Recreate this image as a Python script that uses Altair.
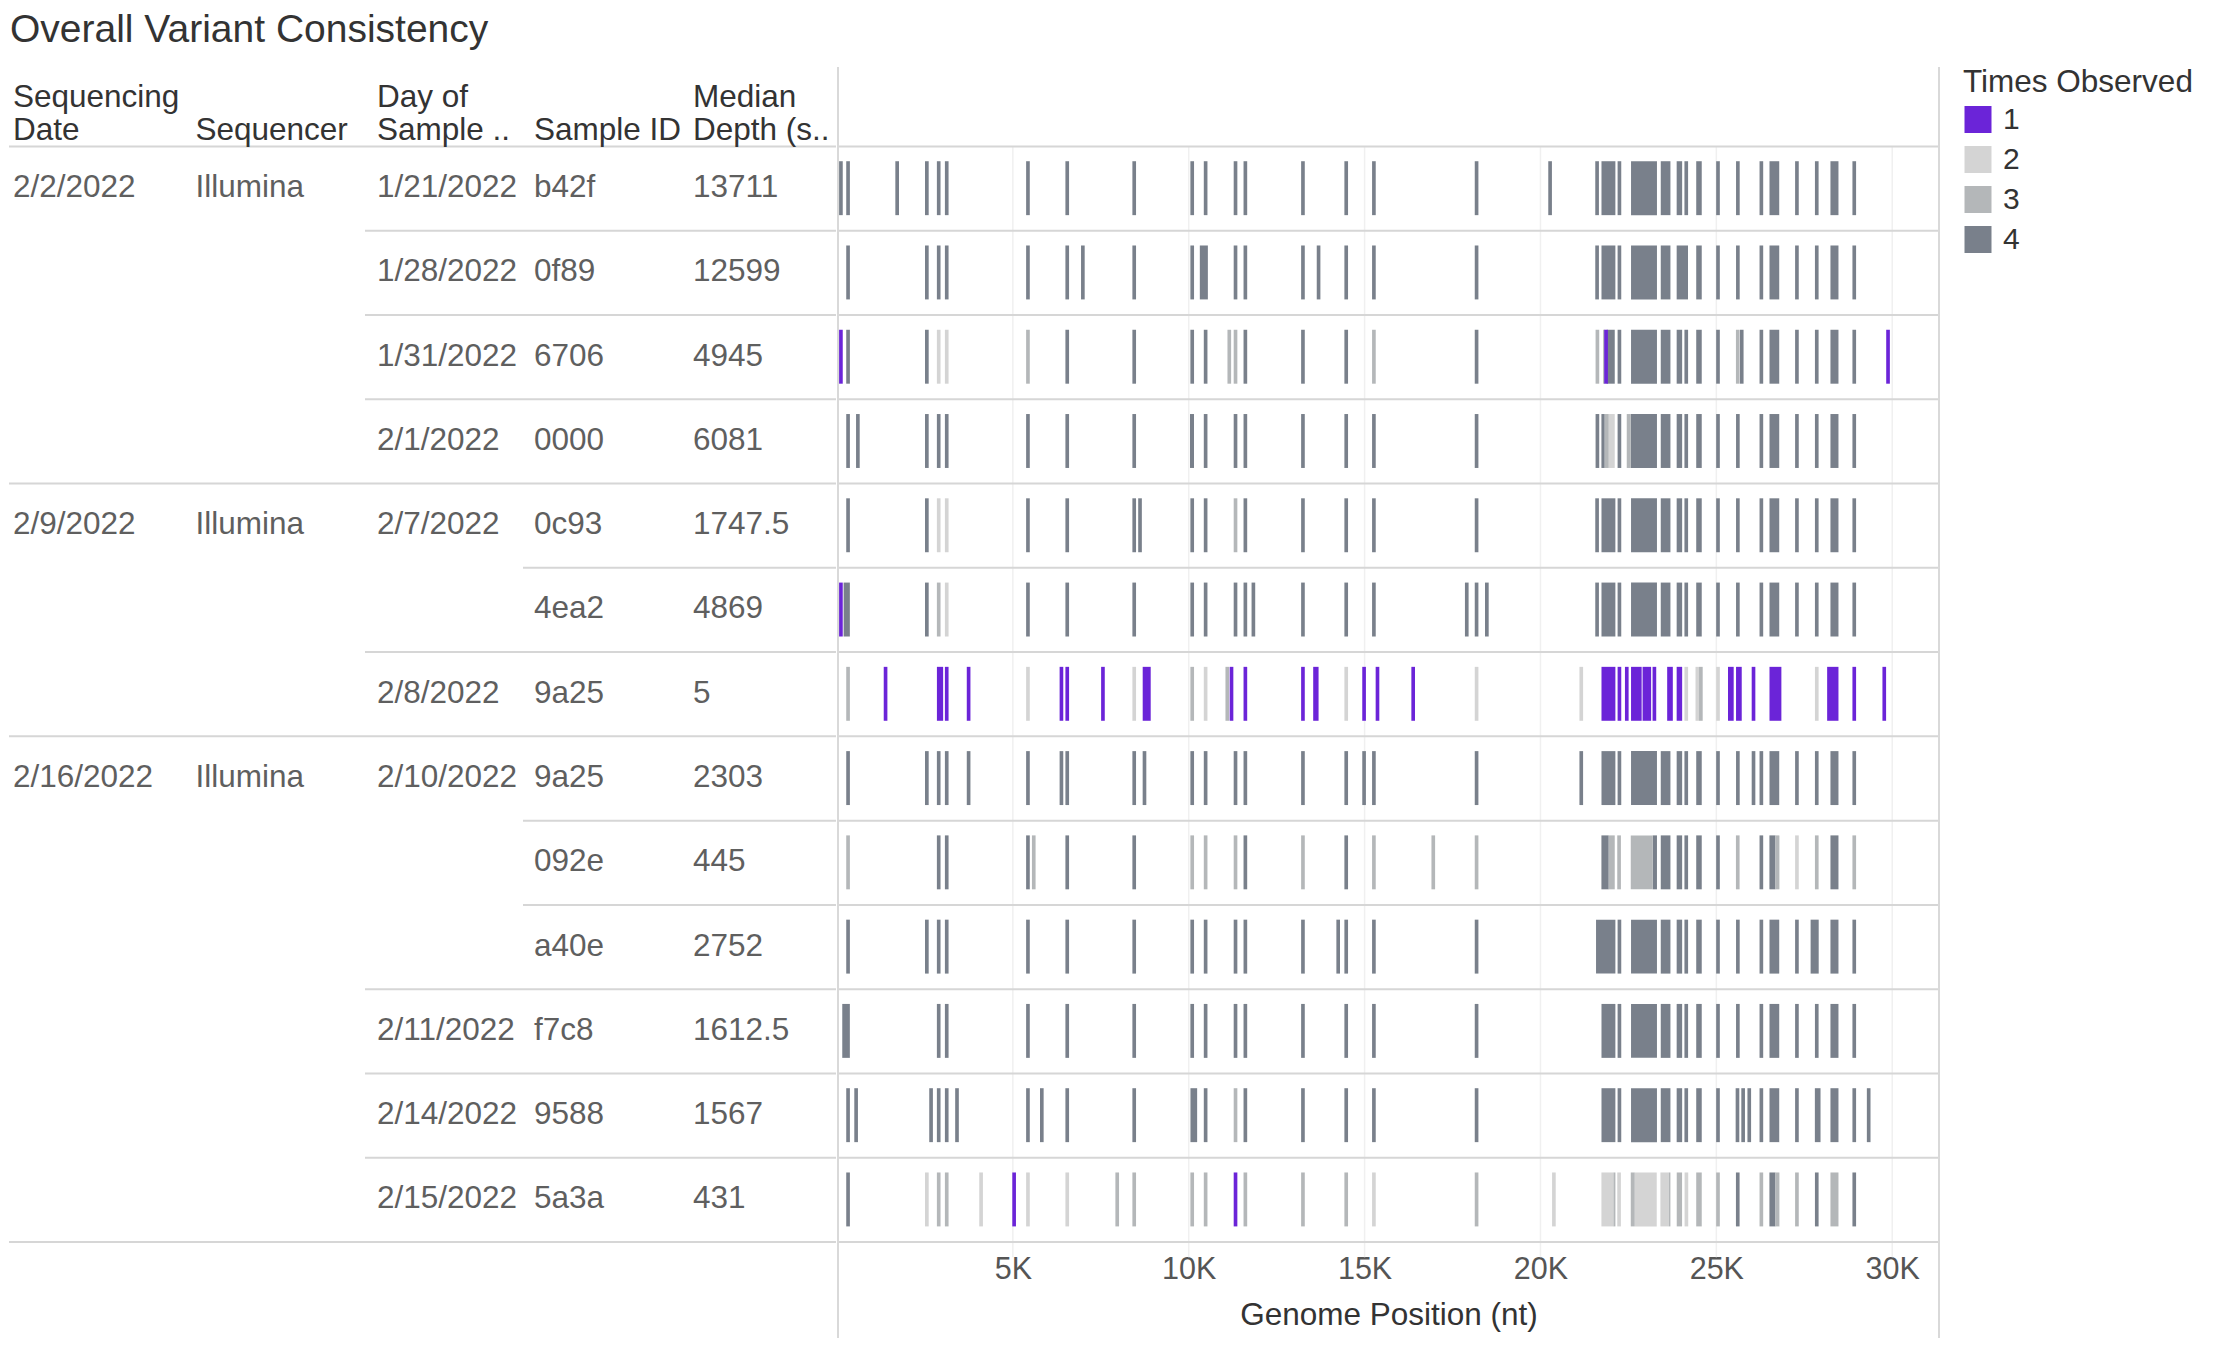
import altair as alt
import pandas as pd

FONT = "Liberation Sans"

# ---------------- data ----------------
title_text = "Overall Variant Consistency"
header_labels = ["Sequencing\nDate", "Sequencer", "Day of\nSample ..", "Sample ID", "Median\nDepth (s.."]
seq_dates = ["2/2/2022"] * 4 + ["2/9/2022"] * 3 + ["2/16/2022"] * 6
sequencers = ["Illumina"] * 13
sample_days = ["1/21/2022", "1/28/2022", "1/31/2022", "2/1/2022", "2/7/2022", "2/7/2022", "2/8/2022",
               "2/10/2022", "2/10/2022", "2/10/2022", "2/11/2022", "2/14/2022", "2/15/2022"]
sample_ids = ["b42f", "0f89", "6706", "0000", "0c93", "4ea2", "9a25", "9a25", "092e", "a40e", "f7c8", "9588", "5a3a"]
depths = ["13711", "12599", "4945", "6081", "1747.5", "4869", "5", "2303", "445", "2752", "1612.5", "1567", "431"]

tick_values = [5000, 10000, 15000, 20000, 25000, 30000]
times_observed = [1, 2, 3, 4]

# variants per sample: (position, times observed) or (start, end, times observed)
v_b42f = [(113, 4), (316, 4), (1712, 4), (2556, 4), (2893, 4), (3121, 4), (5430, 4), (6547, 4), (8451, 4),
          (10100, 4), (10481, 4), (11331, 4), (11611, 4), (13248, 4), (14478, 4), (15265, 4), (18184, 4),
          (20274, 4), (21610, 4), (21735, 22130, 4), (22245, 4), (22575, 23312, 4), (23420, 23695, 4),
          (23872, 24028, 4), (24145, 4), (24428, 24585, 4), (25047, 4), (25612, 4), (26280, 4),
          (26511, 26788, 4), (27291, 4), (27855, 4), (28244, 28472, 4), (28921, 4)]
v_0f89 = [(316, 4), (2556, 4), (2893, 4), (3121, 4), (5430, 4), (6547, 4), (6991, 4), (8451, 4), (10100, 4),
          (10316, 10545, 4), (11331, 4), (11611, 4), (13248, 4), (13692, 4), (14478, 4), (15265, 4), (18184, 4),
          (21610, 4), (21735, 22130, 4), (22245, 4), (22575, 23312, 4), (23420, 23695, 4), (23872, 24195, 4),
          (24428, 24585, 4), (25047, 4), (25612, 4), (26280, 4), (26511, 26788, 4), (27291, 4), (27855, 4),
          (28244, 28472, 4), (28921, 4)]
v_6706 = [(113, 1), (316, 4), (2556, 4), (2893, 2), (3121, 2), (5430, 3), (6547, 4), (8451, 4), (10100, 4),
          (10481, 4), (11154, 3), (11331, 3), (11611, 4), (13248, 4), (14478, 4), (15265, 3), (18184, 4),
          (21619, 3), (21780, 21840, 3), (21880, 22112, 4), (21865, 1), (22245, 4), (22575, 23312, 4),
          (23420, 23695, 4), (23872, 24028, 4), (24145, 4), (24428, 24585, 4), (25047, 4), (25609, 3),
          (25722, 4), (26280, 4), (26511, 26788, 4), (27291, 4), (27855, 4), (28244, 28472, 4), (28921, 4),
          (29881, 1)]
v_0000 = [(316, 4), (595, 4), (2556, 4), (2893, 4), (3121, 4), (5430, 4), (6547, 4), (8451, 4),
          (10037, 10151, 4), (10481, 4), (11331, 4), (11611, 4), (13248, 4), (14478, 4), (15265, 4), (18184, 4),
          (21619, 4), (21733, 21827, 4), (21827, 21941, 3), (21941, 22112, 2), (22245, 4), (22453, 22567, 3),
          (22567, 23312, 4), (23420, 23695, 4), (23872, 24028, 4), (24145, 4), (24428, 24585, 4), (25047, 4),
          (25612, 4), (26280, 4), (26511, 26788, 4), (27291, 4), (27855, 4), (28244, 28472, 4), (28921, 4)]
v_0c93 = [(316, 4), (2556, 4), (2893, 2), (3121, 2), (5430, 4), (6547, 4), (8451, 4), (8616, 4), (10100, 4),
          (10481, 4), (11331, 3), (11611, 4), (13248, 4), (14478, 4), (15265, 4), (18184, 4), (21610, 4),
          (21735, 22130, 4), (22245, 4), (22575, 23312, 4), (23420, 23695, 4), (23872, 24028, 4), (24145, 4),
          (24428, 24585, 4), (25047, 4), (25612, 4), (26280, 4), (26511, 26788, 4), (27291, 4), (27855, 4),
          (28244, 28472, 4), (28921, 4)]
v_4ea2 = [(113, 1), (190, 367, 4), (2556, 4), (2893, 3), (3121, 2), (5430, 4), (6547, 4), (8451, 4), (10100, 4),
          (10481, 4), (11331, 4), (11611, 4), (11839, 4), (13248, 4), (14478, 4), (15265, 4), (17905, 4),
          (18184, 4), (18476, 4), (21610, 4), (21735, 22130, 4), (22245, 4), (22575, 23312, 4),
          (23420, 23695, 4), (23872, 24028, 4), (24145, 4), (24428, 24585, 4), (25047, 4), (25612, 4),
          (26280, 4), (26511, 26788, 4), (27291, 4), (27855, 4), (28244, 28472, 4), (28921, 4)]
v_9a25_a = [(316, 3), (1382, 1), (2842, 3019, 1), (3121, 1), (3743, 1), (5430, 2), (6382, 1), (6547, 1),
            (7562, 1), (8451, 2), (8692, 8920, 1), (10100, 3), (10481, 2), (11097, 3), (11217, 1), (11611, 1),
            (13248, 1), (13539, 13692, 1), (14478, 2), (14986, 1), (15367, 1), (16382, 1), (18184, 2),
            (21160, 2), (21735, 22130, 1), (22245, 1), (22454, 1), (22575, 22877, 1), (22903, 23146, 1),
            (23239, 1), (23602, 23763, 1), (23872, 24028, 1), (24145, 2), (24460, 2), (24560, 3), (25047, 2),
            (25332, 25493, 1), (25560, 25722, 1), (26057, 1), (26511, 26849, 1), (27855, 2),
            (28150, 28472, 1), (28921, 1), (29774, 1)]
v_9a25_b = [(316, 4), (2556, 4), (2893, 4), (3121, 4), (3743, 4), (5430, 4), (6382, 4), (6547, 4), (8451, 4),
            (8743, 4), (10100, 4), (10481, 4), (11331, 4), (11611, 4), (13248, 4), (14478, 4), (14986, 4),
            (15265, 4), (18184, 4), (21160, 4), (21735, 22130, 4), (22245, 4), (22575, 23312, 4),
            (23420, 23695, 4), (23872, 24028, 4), (24145, 4), (24428, 24585, 4), (25047, 4), (25612, 4),
            (26057, 4), (26280, 4), (26511, 26788, 4), (27291, 4), (27855, 4), (28244, 28472, 4), (28921, 4)]
v_092e = [(316, 3), (2893, 4), (3121, 4), (5430, 4), (5595, 3), (6547, 4), (8451, 4), (10100, 3), (10481, 3),
          (11331, 3), (11611, 4), (13248, 3), (14478, 4), (15265, 3), (16953, 3), (18184, 3),
          (21733, 21941, 4), (21941, 22112, 3), (22235, 3), (22567, 23192, 3), (23192, 23312, 4),
          (23420, 23695, 4), (23872, 24028, 4), (24145, 4), (24428, 24585, 4), (25047, 4), (25609, 3),
          (26280, 4), (26509, 26680, 4), (26680, 26793, 3), (27291, 2), (27855, 3), (28244, 28472, 4),
          (28921, 3)]
v_a40e = [(316, 4), (2556, 4), (2893, 4), (3121, 4), (5430, 4), (6547, 4), (8451, 4), (10100, 4), (10481, 4),
          (11331, 4), (11611, 4), (13248, 4), (14250, 4), (14478, 4), (15265, 4), (18184, 4),
          (21580, 22130, 4), (22245, 4), (22575, 23312, 4), (23420, 23695, 4), (23872, 24028, 4), (24145, 4),
          (24428, 24585, 4), (25047, 4), (25612, 4), (26280, 4), (26511, 26788, 4), (27291, 4),
          (27680, 27910, 4), (28244, 28472, 4), (28921, 4)]
v_f7c8 = [(151, 367, 4), (2893, 4), (3121, 4), (5430, 4), (6547, 4), (8451, 4), (10100, 4), (10481, 4),
          (11331, 4), (11611, 4), (13248, 4), (14478, 4), (15265, 4), (18184, 4), (21735, 22130, 4), (22245, 4),
          (22575, 23312, 4), (23420, 23695, 4), (23872, 24028, 4), (24145, 4), (24428, 24585, 4), (25047, 4),
          (25612, 4), (26280, 4), (26511, 26788, 4), (27291, 4), (27855, 4), (28244, 28472, 4), (28921, 4)]
v_9588 = [(316, 4), (545, 4), (2676, 4), (2893, 4), (3121, 4), (3413, 4), (5430, 4), (5824, 4), (6547, 4),
          (8451, 4), (10050, 10240, 4), (10481, 4), (11331, 3), (11611, 4), (13248, 4), (14478, 4), (15265, 4),
          (18184, 4), (21735, 22130, 4), (22245, 4), (22575, 23312, 4), (23420, 23695, 4), (23872, 24028, 4),
          (24145, 4), (24428, 24585, 4), (25047, 4), (25601, 4), (25762, 4), (25936, 4), (26280, 4),
          (26511, 26788, 4), (27291, 4), (27801, 27962, 4), (28244, 28472, 4), (28921, 4), (29331, 4)]
v_5a3a = [(316, 4), (2556, 2), (2893, 3), (3121, 3), (4098, 2), (5037, 1), (5430, 2), (6547, 2), (7968, 3),
          (8451, 3), (10100, 3), (10481, 3), (11331, 1), (11611, 3), (13248, 3), (14478, 3), (15265, 2),
          (18184, 3), (20382, 2), (21733, 22074, 2), (22074, 22131, 3), (22235, 2), (22567, 22680, 3),
          (22680, 23306, 2), (23410, 23647, 2), (23647, 23694, 3), (23874, 24026, 3), (24149, 2),
          (24428, 24585, 3), (25047, 3), (25609, 4), (26280, 3), (26509, 26680, 4), (26680, 26793, 3),
          (27291, 3), (27855, 4), (28244, 28472, 3), (28921, 4)]

variants_by_row = [v_b42f, v_0f89, v_6706, v_0000, v_0c93, v_4ea2, v_9a25_a, v_9a25_b,
                   v_092e, v_a40e, v_f7c8, v_9588, v_5a3a]

# ---------------- styling constants ----------------
W_T = 827          # table width
W_G = 1101         # genome panel width
H = 1175           # panel height (header + rows)
HEAD = 0.943       # header height in row units
N = len(sample_ids)
HALF = 52          # half width of a single-variant bar, in nt
LINE = "#d6d6d6"
GRID = "#f0f0f0"
COLORS = ["#6b24d8", "#d4d4d4", "#b4b7b9", "#79808b"]
col_x = [4, 186.5, 368, 525, 684]
sep_x = [0, 356, 514]
LH = 33            # header line height

# ---------------- build tables ----------------
body = []
for i in range(N):
    first_seq = i == 0 or seq_dates[i] != seq_dates[i - 1]
    first_day = first_seq or sample_days[i] != sample_days[i - 1]
    vals = [seq_dates[i] if first_seq else "", sequencers[i] if first_seq else "",
            sample_days[i] if first_day else "", sample_ids[i], depths[i]]
    for c, v in enumerate(vals):
        if v:
            body.append({"row": i, "col": c, "txt": v})
body_df = pd.DataFrame(body)

h1, h2 = [], []
for c, lab in enumerate(header_labels):
    parts = lab.split("\n")
    h2.append({"col": c, "txt": parts[-1], "b": 0})
    if len(parts) > 1:
        h1.append({"col": c, "txt": parts[0], "b": 0})
h1_df = pd.DataFrame(h1)
h2_df = pd.DataFrame(h2)

seps = [{"b": 0, "level": 0}]
for i in range(1, N):
    if seq_dates[i] != seq_dates[i - 1]:
        lev = 0
    elif sample_days[i] != sample_days[i - 1]:
        lev = 1
    else:
        lev = 2
    seps.append({"b": i, "level": lev})
seps.append({"b": N, "level": 0})
sep_df = pd.DataFrame(seps)

order_key = {4: 0, 2: 1, 3: 2, 1: 3}
recs = []
for r, items in enumerate(variants_by_row):
    for it in items:
        if len(it) == 2:
            recs.append({"row": r, "start": it[0], "end": it[0], "n": it[1]})
        else:
            recs.append({"row": r, "start": it[0], "end": it[1], "n": it[2]})
var_df = pd.DataFrame(recs)
var_df["ord"] = var_df["n"].map(order_key)
var_df = var_df.sort_values(["ord", "row"], kind="stable").reset_index(drop=True)

grid_df = pd.DataFrame({"tick": tick_values})
one_df = pd.DataFrame({"a": [0]})

yscale = alt.Scale(domain=[-HEAD, N], reverse=True, nice=False, zero=False)
colscale = alt.Scale(domain=[0, 1, 2, 3, 4], range=col_x)

# ---------------- table ----------------
t_sep = alt.Chart(sep_df).mark_rule(color=LINE, strokeWidth=2).encode(
    x=alt.X("level:Q", scale=alt.Scale(domain=[0, 1, 2], range=sep_x), axis=None),
    x2=alt.value(W_T),
    y=alt.Y("b:Q", scale=yscale, axis=None),
)
head_style = dict(align="left", baseline="bottom", fontSize=31.5, color="#333333", font=FONT)
t_head2 = alt.Chart(h2_df).mark_text(dy=1, **head_style).encode(
    x=alt.X("col:Q", scale=colscale, axis=None),
    y=alt.Y("b:Q", scale=yscale, axis=None),
    text="txt:N",
)
t_head1 = alt.Chart(h1_df).mark_text(dy=1 - LH, **head_style).encode(
    x=alt.X("col:Q", scale=colscale, axis=None),
    y=alt.Y("b:Q", scale=yscale, axis=None),
    text="txt:N",
)
t_body = alt.Chart(body_df).transform_calculate(ym="datum.row + 0.5").mark_text(
    align="left", baseline="middle", fontSize=31.5, color="#5f5f5f", dy=-0.5, font=FONT
).encode(
    x=alt.X("col:Q", scale=colscale, axis=None),
    y=alt.Y("ym:Q", scale=yscale, axis=None),
    text="txt:N",
)
table = alt.layer(t_sep, t_head2, t_head1, t_body).resolve_scale(x="independent").properties(
    width=W_T, height=H)

# ---------------- genome panel ----------------
xscale = alt.Scale(domain=[30, 31330], nice=False, zero=False)
xaxis = alt.Axis(
    values=tick_values, labelExpr="datum.value / 1000 + 'K'", grid=False, ticks=False,
    domain=False, labelFontSize=30.5, labelColor="#555555", labelPadding=12, labelFont=FONT,
    title="Genome Position (nt)", titleFontSize=31.5, titleColor="#333333",
    titleFontWeight="normal", titlePadding=15, titleFont=FONT)

g_grid = alt.Chart(grid_df).transform_calculate(y0="0", y1=f"{N} + 0.18").mark_rule(
    color=GRID, strokeWidth=1.5
).encode(
    x=alt.X("tick:Q", scale=xscale, axis=xaxis),
    y=alt.Y("y0:Q", scale=yscale, axis=None),
    y2="y1:Q",
)
g_sep = alt.Chart(sep_df).mark_rule(color=LINE, strokeWidth=2).encode(
    x=alt.value(0), x2=alt.value(W_G),
    y=alt.Y("b:Q", scale=yscale, axis=None),
)
g_var = alt.Chart(var_df).transform_calculate(
    x0=f"datum.start == datum.end ? datum.start - {HALF} : datum.start",
    x1=f"datum.start == datum.end ? datum.end + {HALF} : datum.end",
    y0="datum.row + 0.175",
    y1="datum.row + 0.815",
).mark_rect().encode(
    x=alt.X("x0:Q", scale=xscale, axis=xaxis),
    x2="x1:Q",
    y=alt.Y("y0:Q", scale=yscale, axis=None),
    y2="y1:Q",
    color=alt.Color("n:O", scale=alt.Scale(domain=times_observed, range=COLORS), legend=alt.Legend(
        title="Times Observed", orient="right", offset=23, padding=0,
        titleFontSize=31.5, titleFontWeight="normal", titleColor="#333333", titlePadding=6,
        titleFont=FONT, titleLimit=400,
        labelFontSize=30, labelColor="#333333", labelOffset=10, labelFont=FONT,
        symbolType="square", symbolSize=729, symbolStrokeWidth=0, symbolOpacity=1, rowPadding=10)),
)
g_left = alt.Chart(one_df).mark_rule(color="#d9d9d9", strokeWidth=2).encode(
    x=alt.value(0), y=alt.value(0), y2=alt.value(H + 96))
g_right = alt.Chart(one_df).mark_rule(color="#d9d9d9", strokeWidth=2).encode(
    x=alt.value(W_G), y=alt.value(0), y2=alt.value(H + 96))

genome = alt.layer(g_grid, g_sep, g_var, g_left, g_right).properties(width=W_G, height=H)

chart = alt.hconcat(table, genome, spacing=0).properties(
    title=alt.TitleParams(text=title_text, anchor="start", fontSize=39, fontWeight="normal",
                          color="#333333", offset=16, font=FONT, dx=2),
    padding={"left": 0, "top": 3, "right": 10, "bottom": 0},
).configure(font=FONT).configure_view(strokeWidth=0, stroke="transparent")

chart.save("out.html", embed_options={"renderer": "svg", "actions": False})
